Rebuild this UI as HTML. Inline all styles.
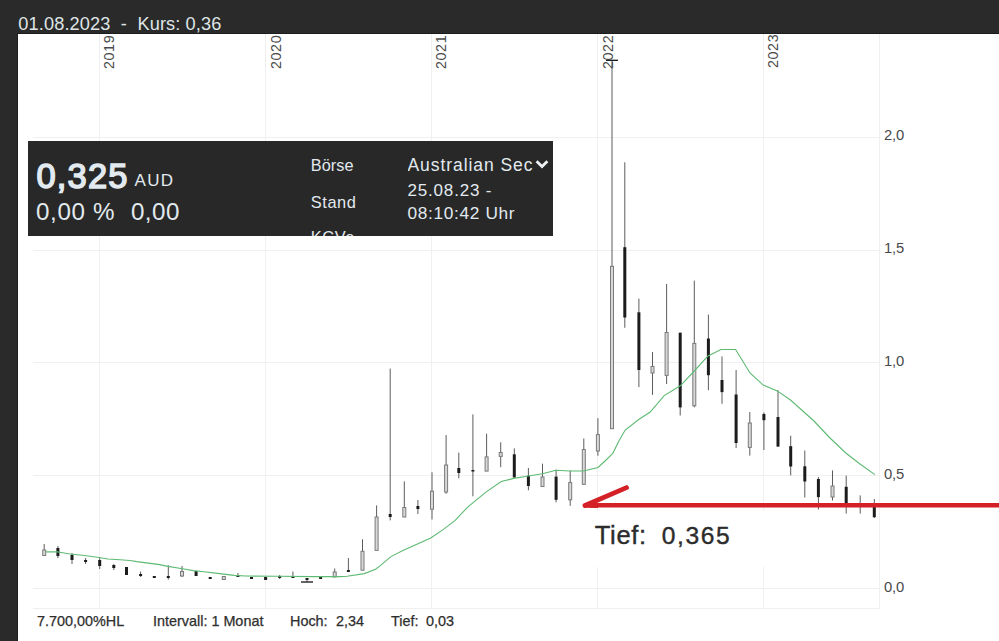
<!DOCTYPE html>
<html><head><meta charset="utf-8">
<style>
html,body{margin:0;padding:0;}
body{width:999px;height:641px;overflow:hidden;background:#2a2a2a;position:relative;font-family:"Liberation Sans",sans-serif;}
.t{position:absolute;white-space:pre;line-height:1;}
#chart{position:absolute;left:18px;top:34px;width:981px;height:607px;background:#fff;}
svg{position:absolute;left:0;top:0;}
.yr{position:absolute;white-space:pre;line-height:1;transform-origin:0 0;transform:rotate(-90deg);font-size:14.4px;color:#4a4a4a;letter-spacing:0.55px;}
.ya{position:absolute;white-space:pre;line-height:1;font-size:14.8px;color:#4a4a4a;left:884px;letter-spacing:-0.2px;}
.bt{position:absolute;white-space:pre;line-height:1;font-size:14.4px;color:#2e2e2e;top:614.3px;-webkit-text-stroke:0.25px #2e2e2e;}
#box .t{color:#e2eaef;}
</style></head><body>
<div class="t" style="left:18.3px;top:14.6px;font-size:18.2px;color:#dfe5e6;letter-spacing:0.12px;">01.08.2023  -  Kurs: 0,36</div>
<div id="chart"></div>
<div style="position:absolute;left:17px;top:33px;width:982px;height:1px;background:#1c1c1c"></div>
<div style="position:absolute;left:17px;top:33px;width:1px;height:608px;background:#1e1e1e"></div>
<svg width="999" height="641" viewBox="0 0 999 641">
<line x1="33" y1="137.5" x2="879.5" y2="137.5" stroke="#f0f0f0" stroke-width="1"/>
<line x1="33" y1="250.5" x2="879.5" y2="250.5" stroke="#f0f0f0" stroke-width="1"/>
<line x1="33" y1="362.5" x2="879.5" y2="362.5" stroke="#f0f0f0" stroke-width="1"/>
<line x1="33" y1="475.5" x2="879.5" y2="475.5" stroke="#f0f0f0" stroke-width="1"/>
<line x1="33" y1="588.5" x2="879.5" y2="588.5" stroke="#f0f0f0" stroke-width="1"/>
<line x1="99.5" y1="34" x2="99.5" y2="608.5" stroke="#f0f0f0" stroke-width="1"/>
<line x1="265.5" y1="34" x2="265.5" y2="608.5" stroke="#f0f0f0" stroke-width="1"/>
<line x1="431.5" y1="34" x2="431.5" y2="608.5" stroke="#f0f0f0" stroke-width="1"/>
<line x1="597.5" y1="34" x2="597.5" y2="608.5" stroke="#f0f0f0" stroke-width="1"/>
<line x1="763.5" y1="34" x2="763.5" y2="608.5" stroke="#f0f0f0" stroke-width="1"/>
<line x1="879.5" y1="34" x2="879.5" y2="608.5" stroke="#f0f0f0" stroke-width="1"/>
<line x1="33" y1="608.5" x2="879.5" y2="608.5" stroke="#f0f0f0" stroke-width="1"/>
<line x1="44.2" y1="544" x2="44.2" y2="555.5" stroke="#5c5c5c" stroke-width="1"/>
<rect x="42.7" y="550" width="3" height="5.5" fill="#d8d8d8" stroke="#7a7a7a" stroke-width="1"/>
<line x1="57.9" y1="546" x2="57.9" y2="558" stroke="#5c5c5c" stroke-width="1"/>
<rect x="56.4" y="548" width="3" height="8.0" fill="#1c1c1c"/>
<line x1="72.0" y1="553" x2="72.0" y2="564" stroke="#5c5c5c" stroke-width="1"/>
<rect x="70.5" y="555" width="3" height="5.0" fill="#1c1c1c"/>
<line x1="85.6" y1="558" x2="85.6" y2="564" stroke="#5c5c5c" stroke-width="1"/>
<rect x="84.1" y="560" width="3" height="2.0" fill="#1c1c1c"/>
<line x1="99.7" y1="558" x2="99.7" y2="569" stroke="#5c5c5c" stroke-width="1"/>
<rect x="98.2" y="560" width="3" height="6.0" fill="#1c1c1c"/>
<line x1="113.8" y1="564" x2="113.8" y2="570" stroke="#5c5c5c" stroke-width="1"/>
<rect x="112.3" y="565" width="3" height="3.0" fill="#1c1c1c"/>
<rect x="125.0" y="567" width="3" height="8.0" fill="#1c1c1c"/>
<line x1="140.6" y1="571.5" x2="140.6" y2="577" stroke="#5c5c5c" stroke-width="1"/>
<rect x="139.1" y="574" width="3" height="2.0" fill="#1c1c1c"/>
<rect x="152.8" y="576" width="3" height="2.0" fill="#1c1c1c"/>
<line x1="168.3" y1="565.3" x2="168.3" y2="579.6" stroke="#5c5c5c" stroke-width="1"/>
<rect x="166.8" y="576" width="3" height="2.0" fill="#1c1c1c"/>
<line x1="182.0" y1="566" x2="182.0" y2="577" stroke="#5c5c5c" stroke-width="1"/>
<rect x="180.5" y="571.5" width="3" height="4.5" fill="#d8d8d8" stroke="#7a7a7a" stroke-width="1"/>
<rect x="194.6" y="571" width="3" height="5.0" fill="#1c1c1c"/>
<rect x="208.7" y="577" width="3" height="2.0" fill="#1c1c1c"/>
<rect x="222.3" y="576.5" width="3" height="3.0" fill="#d8d8d8" stroke="#7a7a7a" stroke-width="1"/>
<line x1="237.9" y1="573" x2="237.9" y2="577" stroke="#5c5c5c" stroke-width="1"/>
<rect x="236.4" y="575" width="3" height="2.0" fill="#1c1c1c"/>
<rect x="250.0" y="577" width="3" height="2.0" fill="#1c1c1c"/>
<rect x="264.1" y="577" width="3" height="3.0" fill="#1c1c1c"/>
<line x1="279.7" y1="575" x2="279.7" y2="579" stroke="#5c5c5c" stroke-width="1"/>
<rect x="278.2" y="576" width="3" height="2.0" fill="#1c1c1c"/>
<line x1="292.9" y1="571.5" x2="292.9" y2="578" stroke="#5c5c5c" stroke-width="1"/>
<rect x="291.4" y="576.5" width="3" height="1.5" fill="#1c1c1c"/>
<line x1="307.0" y1="578" x2="307.0" y2="582" stroke="#5c5c5c" stroke-width="1"/>
<rect x="305.5" y="578" width="3" height="2.0" fill="#1c1c1c"/>
<rect x="319.1" y="577" width="3" height="2.0" fill="#1c1c1c"/>
<line x1="334.7" y1="568.5" x2="334.7" y2="577" stroke="#5c5c5c" stroke-width="1"/>
<rect x="333.2" y="572" width="3" height="5.0" fill="#d8d8d8" stroke="#7a7a7a" stroke-width="1"/>
<line x1="348.4" y1="558" x2="348.4" y2="572" stroke="#5c5c5c" stroke-width="1"/>
<rect x="346.9" y="570" width="3" height="2.0" fill="#1c1c1c"/>
<line x1="362.5" y1="539.3" x2="362.5" y2="570.2" stroke="#5c5c5c" stroke-width="1"/>
<rect x="361.0" y="551.3" width="3" height="18.9" fill="#d8d8d8" stroke="#7a7a7a" stroke-width="1"/>
<line x1="376.6" y1="505.4" x2="376.6" y2="550.4" stroke="#5c5c5c" stroke-width="1"/>
<rect x="375.1" y="517" width="3" height="33.4" fill="#d8d8d8" stroke="#7a7a7a" stroke-width="1"/>
<line x1="390.2" y1="368.6" x2="390.2" y2="520.4" stroke="#5c5c5c" stroke-width="1"/>
<rect x="388.7" y="514" width="3" height="3.0" fill="#1c1c1c"/>
<line x1="404.3" y1="481.4" x2="404.3" y2="517" stroke="#5c5c5c" stroke-width="1"/>
<rect x="402.8" y="507.5" width="3" height="9.5" fill="#d8d8d8" stroke="#7a7a7a" stroke-width="1"/>
<line x1="417.9" y1="500" x2="417.9" y2="514" stroke="#5c5c5c" stroke-width="1"/>
<rect x="416.4" y="506" width="3" height="3.0" fill="#1c1c1c"/>
<line x1="432.0" y1="472.3" x2="432.0" y2="519.5" stroke="#5c5c5c" stroke-width="1"/>
<rect x="430.5" y="491.2" width="3" height="18.0" fill="#d8d8d8" stroke="#7a7a7a" stroke-width="1"/>
<line x1="446.1" y1="435" x2="446.1" y2="493.8" stroke="#5c5c5c" stroke-width="1"/>
<rect x="444.6" y="465" width="3" height="27.0" fill="#d8d8d8" stroke="#7a7a7a" stroke-width="1"/>
<line x1="458.8" y1="452.6" x2="458.8" y2="478.3" stroke="#5c5c5c" stroke-width="1"/>
<rect x="457.3" y="468" width="3" height="5.0" fill="#1c1c1c"/>
<line x1="472.9" y1="414.4" x2="472.9" y2="496.3" stroke="#5c5c5c" stroke-width="1"/>
<rect x="471.4" y="470" width="3" height="1.5" fill="#1c1c1c"/>
<line x1="486.6" y1="433.7" x2="486.6" y2="471.1" stroke="#5c5c5c" stroke-width="1"/>
<rect x="485.1" y="456.9" width="3" height="14.2" fill="#d8d8d8" stroke="#7a7a7a" stroke-width="1"/>
<line x1="500.7" y1="442.3" x2="500.7" y2="467.2" stroke="#5c5c5c" stroke-width="1"/>
<rect x="499.2" y="452.5" width="3" height="3.9" fill="#d8d8d8" stroke="#7a7a7a" stroke-width="1"/>
<line x1="514.3" y1="448.3" x2="514.3" y2="477.5" stroke="#5c5c5c" stroke-width="1"/>
<rect x="512.8" y="454.3" width="3" height="23.2" fill="#1c1c1c"/>
<line x1="528.4" y1="468" x2="528.4" y2="490.3" stroke="#5c5c5c" stroke-width="1"/>
<rect x="526.9" y="475.7" width="3" height="10.3" fill="#1c1c1c"/>
<line x1="542.5" y1="463.7" x2="542.5" y2="487" stroke="#5c5c5c" stroke-width="1"/>
<rect x="541.0" y="477" width="3" height="9.5" fill="#d8d8d8" stroke="#7a7a7a" stroke-width="1"/>
<line x1="556.1" y1="469.7" x2="556.1" y2="502.3" stroke="#5c5c5c" stroke-width="1"/>
<rect x="554.6" y="476.6" width="3" height="23.2" fill="#1c1c1c"/>
<line x1="570.2" y1="470.6" x2="570.2" y2="505.8" stroke="#5c5c5c" stroke-width="1"/>
<rect x="568.7" y="482.6" width="3" height="17.2" fill="#d8d8d8" stroke="#7a7a7a" stroke-width="1"/>
<line x1="583.8" y1="438.5" x2="583.8" y2="484.8" stroke="#5c5c5c" stroke-width="1"/>
<rect x="582.3" y="449.5" width="3" height="34.8" fill="#d8d8d8" stroke="#7a7a7a" stroke-width="1"/>
<line x1="597.9" y1="418.2" x2="597.9" y2="455.7" stroke="#5c5c5c" stroke-width="1"/>
<rect x="596.4" y="434.6" width="3" height="16.4" fill="#d8d8d8" stroke="#7a7a7a" stroke-width="1"/>
<line x1="612.0" y1="60.3" x2="612.0" y2="428.7" stroke="#5c5c5c" stroke-width="1"/>
<rect x="610.5" y="266.4" width="3" height="162.3" fill="#d8d8d8" stroke="#7a7a7a" stroke-width="1"/>
<line x1="624.8" y1="162.3" x2="624.8" y2="327.8" stroke="#5c5c5c" stroke-width="1"/>
<rect x="623.3" y="247.2" width="3" height="70.3" fill="#1c1c1c"/>
<line x1="638.9" y1="298.6" x2="638.9" y2="387.1" stroke="#5c5c5c" stroke-width="1"/>
<rect x="637.4" y="312.3" width="3" height="57.7" fill="#1c1c1c"/>
<line x1="652.5" y1="352" x2="652.5" y2="394.9" stroke="#5c5c5c" stroke-width="1"/>
<rect x="651.0" y="366.5" width="3" height="6.5" fill="#d8d8d8" stroke="#7a7a7a" stroke-width="1"/>
<line x1="666.6" y1="284" x2="666.6" y2="384" stroke="#5c5c5c" stroke-width="1"/>
<rect x="665.1" y="332.5" width="3" height="42.9" fill="#d8d8d8" stroke="#7a7a7a" stroke-width="1"/>
<line x1="680.2" y1="332.7" x2="680.2" y2="415.5" stroke="#5c5c5c" stroke-width="1"/>
<rect x="678.7" y="332.7" width="3" height="74.7" fill="#1c1c1c"/>
<line x1="694.3" y1="280.6" x2="694.3" y2="407.4" stroke="#5c5c5c" stroke-width="1"/>
<rect x="692.8" y="343.4" width="3" height="62.4" fill="#d8d8d8" stroke="#7a7a7a" stroke-width="1"/>
<line x1="708.4" y1="314.6" x2="708.4" y2="390.2" stroke="#5c5c5c" stroke-width="1"/>
<rect x="706.9" y="338.5" width="3" height="36.7" fill="#1c1c1c"/>
<line x1="722.0" y1="356.4" x2="722.0" y2="403.8" stroke="#5c5c5c" stroke-width="1"/>
<rect x="720.5" y="380" width="3" height="12.1" fill="#1c1c1c"/>
<line x1="736.1" y1="370" x2="736.1" y2="448" stroke="#5c5c5c" stroke-width="1"/>
<rect x="734.6" y="394.5" width="3" height="48.5" fill="#1c1c1c"/>
<line x1="749.8" y1="412" x2="749.8" y2="455.6" stroke="#5c5c5c" stroke-width="1"/>
<rect x="748.3" y="423" width="3" height="24.4" fill="#d8d8d8" stroke="#7a7a7a" stroke-width="1"/>
<line x1="763.9" y1="412.4" x2="763.9" y2="450" stroke="#5c5c5c" stroke-width="1"/>
<rect x="762.4" y="414" width="3" height="6.2" fill="#1c1c1c"/>
<line x1="778.0" y1="390.2" x2="778.0" y2="446.6" stroke="#5c5c5c" stroke-width="1"/>
<rect x="776.5" y="417" width="3" height="29.6" fill="#1c1c1c"/>
<line x1="790.7" y1="435.7" x2="790.7" y2="475.4" stroke="#5c5c5c" stroke-width="1"/>
<rect x="789.2" y="446.2" width="3" height="20.3" fill="#1c1c1c"/>
<line x1="804.8" y1="450.5" x2="804.8" y2="497.5" stroke="#5c5c5c" stroke-width="1"/>
<rect x="803.3" y="466.3" width="3" height="15.2" fill="#1c1c1c"/>
<line x1="818.4" y1="477" x2="818.4" y2="509.5" stroke="#5c5c5c" stroke-width="1"/>
<rect x="816.9" y="479" width="3" height="18.1" fill="#1c1c1c"/>
<line x1="832.5" y1="470.4" x2="832.5" y2="500.5" stroke="#5c5c5c" stroke-width="1"/>
<rect x="831.0" y="486" width="3" height="11.0" fill="#d8d8d8" stroke="#7a7a7a" stroke-width="1"/>
<line x1="846.2" y1="475.6" x2="846.2" y2="513.6" stroke="#5c5c5c" stroke-width="1"/>
<rect x="844.7" y="486.8" width="3" height="17.2" fill="#1c1c1c"/>
<line x1="860.2" y1="495.4" x2="860.2" y2="513.6" stroke="#5c5c5c" stroke-width="1"/>
<rect x="858.7" y="503" width="3" height="2.0" fill="#1c1c1c"/>
<line x1="874.3" y1="499" x2="874.3" y2="518" stroke="#5c5c5c" stroke-width="1"/>
<rect x="872.8" y="504.7" width="3" height="12.5" fill="#1c1c1c"/>
<line x1="606" y1="60.3" x2="618" y2="60.3" stroke="#111" stroke-width="1.3"/>
<line x1="301" y1="582" x2="313" y2="582" stroke="#111" stroke-width="1.3"/>
<polyline points="46,551.9 57.5,551.9 61,552.5 70,554 80,555 90,556.2 99,557.5 108,559 120,559.7 130,560.5 136.8,561.6 150,563.4 159.6,564.6 168,566.4 182.5,568.8 193.3,570.6 204,571.8 219.7,573.6 234,575.4 245.6,576 278,576.3 314,576.6 340.5,576.6 347,576.2 364.3,573.6 375.5,569.3 380,565.9 390.9,556.6 403.4,550.3 417.4,544.1 430.7,537.9 442.4,530.1 454.9,520.7 467.4,507.4 485.6,492.4 501.2,481.5 513.7,478.4 528.5,476 542.5,473.7 555.8,470.2 570,471 583.5,471 598,467.5 605,461 612.8,453.3 619,440.8 625.2,430 638.7,419.5 650.2,412 664.2,395.6 680.3,385.8 693.8,371.5 708,356 721,349.5 735.6,349.5 750,373 763.2,385.1 777.2,390.9 790.5,400 800,408.5 814,421 829,437 845.2,452.5 860,464 874.9,474.6" fill="none" stroke="#5dba72" stroke-width="1.1"/>
</svg>
<div class="yr" style="left:102.3px;top:68.5px;">2019</div>
<div class="yr" style="left:268.7px;top:68.5px;">2020</div>
<div class="yr" style="left:433.8px;top:68.5px;">2021</div>
<div class="yr" style="left:600.6px;top:68.8px;">2022</div>
<div class="yr" style="left:765.6px;top:68px;">2023</div>

<div class="ya" style="top:128.0px;">2,0</div>
<div class="ya" style="top:240.9px;">1,5</div>
<div class="ya" style="top:353.8px;">1,0</div>
<div class="ya" style="top:466.7px;">0,5</div>
<div class="ya" style="top:579.6px;">0,0</div>

<div id="box" style="position:absolute;left:28px;top:141px;width:525px;height:95px;background:#282828;overflow:hidden;">
<div class="t" style="left:8.4px;top:17.8px;font-size:34.5px;-webkit-text-stroke:1.5px #e2eaef;letter-spacing:1.2px;">0,325</div>
<div class="t" style="left:106.4px;top:31.05px;font-size:17px;letter-spacing:1.4px;">AUD</div>
<div class="t" style="left:7.9px;top:58.5px;font-size:24.2px;letter-spacing:0.68px;">0,00 %</div>
<div class="t" style="left:102.9px;top:58.5px;font-size:24.2px;letter-spacing:0.46px;">0,00</div>
<div class="t" style="left:282.8px;top:15.95px;font-size:16.3px;letter-spacing:0.05px;">Börse</div>
<div class="t" style="left:282.8px;top:52.66px;font-size:16.4px;letter-spacing:0.55px;">Stand</div>
<div class="t" style="left:282.8px;top:87.6px;font-size:16.4px;letter-spacing:0.55px;">KCVe</div>
<div class="t" style="left:379.5px;top:15.7px;width:125.5px;overflow:hidden;font-size:17.5px;letter-spacing:0.93px;">Australian Securities</div>
<svg style="position:absolute;left:507px;top:18px" width="14" height="11" viewBox="0 0 14 11"><path d="M1.6 2.2 L7 7.6 L12.4 2.2" fill="none" stroke="#eef2f4" stroke-width="2.8"/></svg>
<div class="t" style="left:379.5px;top:40.95px;font-size:17px;letter-spacing:0.82px;">25.08.23 -</div>
<div class="t" style="left:379.5px;top:64.4px;font-size:17.3px;letter-spacing:0.65px;">08:10:42 Uhr</div>
</div>

<svg width="999" height="641" viewBox="0 0 999 641">
<rect x="577" y="511" width="190" height="56" fill="#fff"/>
<line x1="590" y1="505.3" x2="999" y2="505.3" stroke="#d42027" stroke-width="4.5"/>
<line x1="585" y1="505.5" x2="626.5" y2="487.6" stroke="#d42027" stroke-width="4.8" stroke-linecap="round"/>
<path d="M584 503.5 L598 503.2 L598 508 L584 507.8 Z" fill="#d42027"/>
</svg>
<div class="t" style="left:594.7px;top:523.3px;font-size:25.5px;color:#2c2c2c;letter-spacing:0.7px;-webkit-text-stroke:0.4px #2c2c2c;">Tief:</div>
<div class="t" style="left:661.8px;top:524.1px;font-size:24.6px;color:#2c2c2c;letter-spacing:1.6px;-webkit-text-stroke:0.4px #2c2c2c;">0,365</div>

<div class="bt" style="left:37px;">7.700,00%HL</div>
<div class="bt" style="left:153px;">Intervall: 1 Monat</div>
<div class="bt" style="left:290px;">Hoch:</div>
<div class="bt" style="left:336px;">2,34</div>
<div class="bt" style="left:391px;">Tief:</div>
<div class="bt" style="left:426px;">0,03</div>
</body></html>
